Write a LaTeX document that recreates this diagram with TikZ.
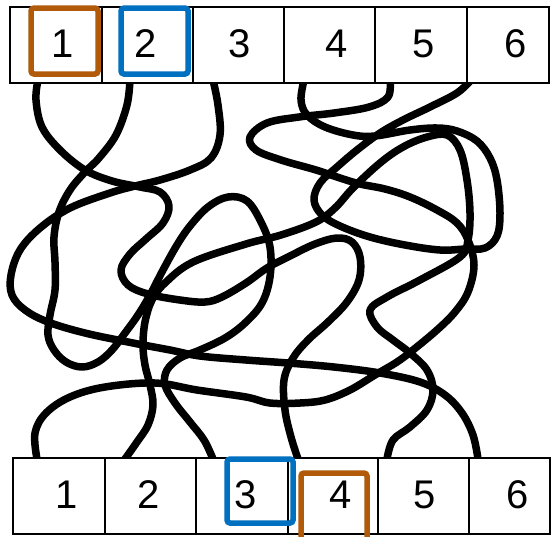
\documentclass[tikz,border=0pt]{standalone}
\usepackage{fontspec}
\setmainfont{Liberation Sans}
\begin{document}
\begin{tikzpicture}[x=1pt,y=-1pt,
  strand/.style={line width=7.5pt, line cap=round, line join=round},
  cell/.style={draw, line width=1.8pt, fill=white, minimum height=76pt},
  lab/.style={font=\fontsize{40}{40}\selectfont, inner sep=0pt, anchor=base},
  hl/.style={line width=5.5pt, rounded corners=3pt}]
\definecolor{hlorange}{RGB}{176,90,10}
\definecolor{hlblue}{RGB}{0,112,192}
\useasboundingbox (0,0) rectangle (551,536);
% strands
\draw[strand] plot[smooth, tension=0.6] coordinates {(38,80) (36,100) (42,127) (60,150) (85,170) (112,181) (140,187) (160,192) (169,206) (163,223) (146,239) (130,254) (121,270) (128,285) (148,294) (180,300) (205,302) (222,297) (246,283) (267,268) (290,256) (315,244) (337,238) (352,242) (360,257) (359,280) (347,302) (328,322) (308,340) (293,358) (284,380) (285,410) (291,437) (298,459)};
\draw[strand] plot[smooth, tension=0.6] coordinates {(130,80) (127,105) (116,135) (99,158) (85,172) (70,190) (59,212) (54,237) (55,262) (55,290) (50,315) (48,335) (54,350) (66,362) (82,367) (98,362) (112,350) (125,333) (138,315) (150,295) (163,270) (177,245) (190,226) (208,207) (228,197) (247,201) (261,222) (270,247) (270,277) (262,303) (245,323) (225,338) (200,350) (180,358) (167,370) (165,385) (175,403) (190,422) (204,440) (213,459)};
\draw[strand] plot[smooth, tension=0.6] coordinates {(213,80) (218,105) (220,135) (211,158) (190,170) (160,180) (135,186) (110,193) (70,208) (40,228) (20,250) (11,275) (12,295) (25,310) (48,322) (85,333) (133,343) (170,350) (200,356) (246,360) (288,363) (334,367) (380,373) (420,382) (445,395) (462,413) (473,435) (478,459)};
\draw[strand] plot[smooth, tension=0.6] coordinates {(304,80) (301,100) (307,115) (325,127) (353,135) (375,136) (410,130) (437,128) (457,131) (477,141) (490,158) (497,180) (500,213) (497,236) (485,248) (465,249) (440,250) (405,245) (370,237) (340,226) (322,215) (314,200) (320,183) (337,167) (357,150) (380,133) (403,120) (430,107) (457,93) (471,80)};
\draw[strand] plot[smooth, tension=0.6] coordinates {(390,80) (388,97) (369,107) (334,113) (299,117) (267,123) (250,137) (256,150) (281,160) (316,170) (340,178) (360,184) (385,189) (410,197) (437,210) (457,223) (468,240) (474,265) (468,292) (455,312) (437,330) (413,350) (397,362) (375,375) (350,390) (325,400) (300,403) (270,403) (246,397) (197,390) (155,383) (105,387) (70,397) (46,413) (35,433) (37,459)};
\draw[strand] plot[smooth, tension=0.6] coordinates {(125,459) (137,442) (148,425) (153,405) (150,385) (145,365) (143,345) (145,322) (152,300) (165,283) (193,262) (246,244) (281,235) (316,222) (335,208) (353,188) (380,163) (403,147) (427,137) (447,135) (460,150) (467,180) (470,213) (468,240) (460,257) (420,280) (387,297) (370,310) (377,327) (393,340) (410,353) (427,370) (433,390) (427,410) (410,427) (393,440) (387,459)};
% top row
\node[cell, minimum width=92pt, anchor=north west] (c1) at (9,6) {};
\node[cell, minimum width=91pt, anchor=north west] (c2) at (101,6) {};
\node[cell, minimum width=91pt, anchor=north west] (c3) at (192,6) {};
\node[cell, minimum width=91pt, anchor=north west] (c4) at (283,6) {};
\node[cell, minimum width=92pt, anchor=north west] (c5) at (374,6) {};
\node[cell, minimum width=82pt, anchor=north west] (c6) at (466,6) {};
% bottom row
\node[cell, minimum width=92pt, anchor=north west] (d1) at (12,457) {};
\node[cell, minimum width=91pt, anchor=north west] (d2) at (104,457) {};
\node[cell, minimum width=92pt, anchor=north west] (d3) at (195,457) {};
\node[cell, minimum width=90pt, anchor=north west] (d4) at (287,457) {};
\node[cell, minimum width=91pt, anchor=north west] (d5) at (377,457) {};
\node[cell, minimum width=81pt, anchor=north west] (d6) at (468,457) {};
% labels
\node[lab] (l1) at (63,57) {1};
\node[lab] (l2) at (146,57) {2};
\node[lab] (l3) at (240,57) {3};
\node[lab] (l4) at (337,57) {4};
\node[lab] (l5) at (424,57) {5};
\node[lab] (l6) at (516,57) {6};
\node[lab] (m1) at (67,508) {1};
\node[lab] (m2) at (149,508) {2};
\node[lab] (m3) at (246,508) {3};
\node[lab] (m4) at (341,508) {4};
\node[lab] (m5) at (425,508) {5};
\node[lab] (m6) at (518,508) {6};
% highlight boxes
\draw[hl, hlorange] (31,8) rectangle (98,74);
\draw[hl, hlblue] (121,8) rectangle (188,74);
\draw[hl, hlblue] (227,459) rectangle (293,523);
\draw[hl, hlorange] (301,473) rectangle (367,545);
\end{tikzpicture}
\end{document}
